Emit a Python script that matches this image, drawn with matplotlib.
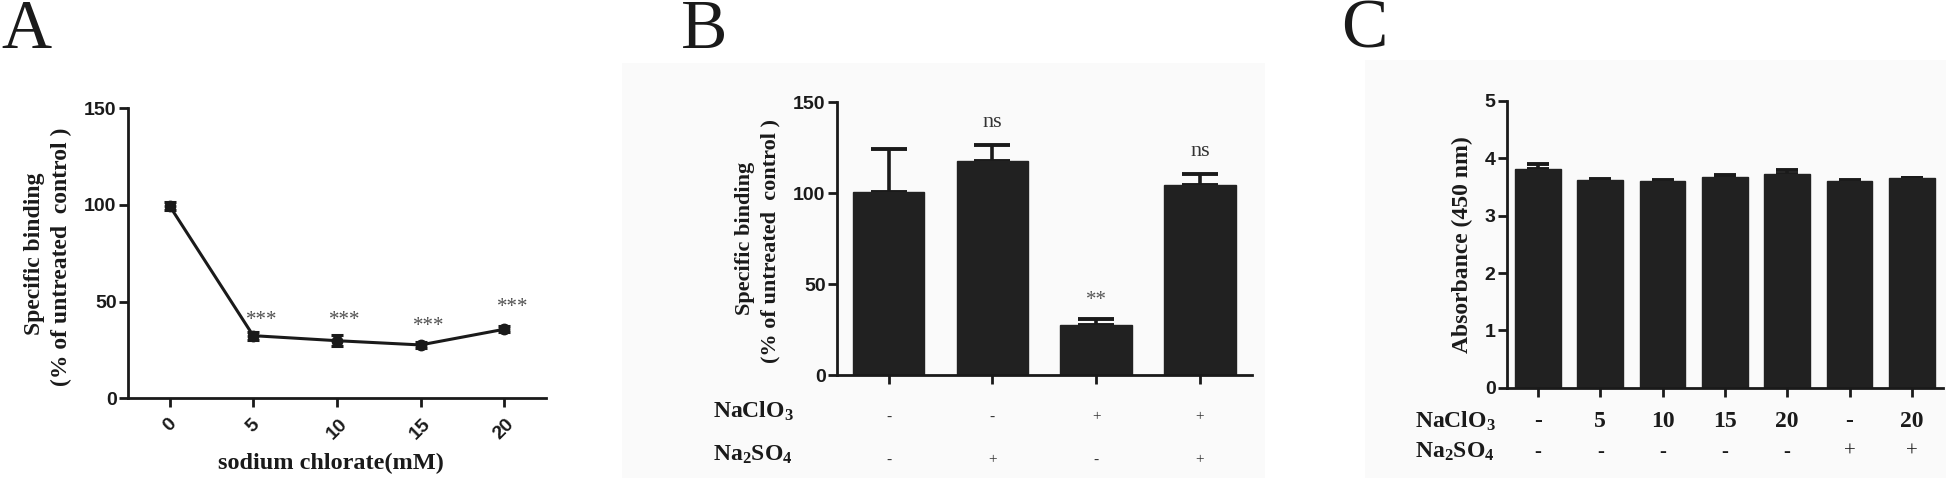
import matplotlib
matplotlib.use("Agg")
import matplotlib.pyplot as plt
from matplotlib.patches import Rectangle
from matplotlib.transforms import blended_transform_factory
import numpy as np

# ---------------- data ----------------
A_conc = [0, 5, 10, 15, 20]
A_binding = [99.6, 32.4, 29.8, 27.6, 35.7]
A_err = [2.0, 2.0, 3.0, 1.5, 1.5]
A_sig = ["", "***", "***", "***", "***"]
A_sig_y = [None, 40, 40, 37, 47]

B_binding = [100.5, 117.9, 27.5, 104.3]
B_err = [23.8, 8.6, 3.1, 6.3]
B_sig = ["", "ns", "**", "ns"]
B_naclo3 = ["-", "-", "+", "+"]
B_na2so4 = ["-", "+", "-", "+"]

C_absorb = [3.81, 3.62, 3.61, 3.68, 3.72, 3.61, 3.65]
C_err = [0.09, 0.015, 0.01, 0.03, 0.07, 0.015, 0.015]
C_naclo3 = ["-", "5", "10", "15", "20", "-", "20"]
C_na2so4 = ["-", "-", "-", "-", "-", "+", "+"]

# ---------------- style ----------------
SANS = "Liberation Sans"
SERIF = "Liberation Serif"
plt.rcParams["mathtext.fontset"] = "custom"
plt.rcParams["mathtext.rm"] = "Liberation Serif"
plt.rcParams["mathtext.bf"] = "Liberation Serif:bold"
plt.rcParams["mathtext.it"] = "Liberation Serif:italic"

W, H = 1946, 478
fig = plt.figure(figsize=(W / 100, H / 100), dpi=100)
fig.patch.set_facecolor("white")

BG = "#fafafa"
BAR = "#212121"
INK = "#1a1a1a"

def fx(px):
    return px / W

def fy(py):
    return 1 - py / H

# background panels for B and C
fig.patches.append(Rectangle((fx(622), 0), fx(1265) - fx(622), fy(63), transform=fig.transFigure,
                             facecolor=BG, edgecolor="none", zorder=-10))
fig.patches.append(Rectangle((fx(1365), 0), 1 - fx(1365), fy(60), transform=fig.transFigure,
                             facecolor=BG, edgecolor="none", zorder=-10))

def make_ax(left, right, top, bottom):
    ax = fig.add_axes([fx(left), fy(bottom), fx(right) - fx(left), (bottom - top) / H])
    ax.set_facecolor("none")
    ax.set_zorder(2)
    for s in ("top", "right"):
        ax.spines[s].set_visible(False)
    for s in ("left", "bottom"):
        ax.spines[s].set_linewidth(2.0)
        ax.spines[s].set_color(INK)
    ax.tick_params(axis="both", direction="out", width=2.0, length=6.5, color=INK)
    ax.tick_params(axis="y", pad=1.5)
    return ax

def style_yticks(ax):
    for lab in ax.get_yticklabels():
        lab.set_fontfamily(SANS)
        lab.set_fontweight("bold")
        lab.set_fontsize(14)
        lab.set_color(INK)

# ---------------- panel letters ----------------
for letter, x in (("A", 1), ("B", 681), ("C", 1341)):
    fig.text(fx(x), fy(48), letter, family=SERIF, fontsize=50, color=INK, ha="left", va="baseline")

# ---------------- Panel A ----------------
axA = make_ax(127.7, 546, 108.3, 398.3)
axA.errorbar(A_conc, A_binding, yerr=A_err, color=INK, lw=2.2, marker="o", ms=7.5,
             mfc=INK, mec=INK, capsize=4, capthick=2.2, elinewidth=2.2, zorder=3)
axA.set_xlim(-2.5, 22.5)
axA.set_ylim(0, 150)
axA.set_yticks([0, 50, 100, 150])
axA.set_xticks(A_conc)
axA.set_xticklabels([str(c) for c in A_conc], rotation=45, ha="center", va="top",
                    family=SANS, fontweight="bold", fontsize=14, color=INK)
axA.tick_params(axis="x", pad=6)
style_yticks(axA)
for x, s, yy in zip(A_conc, A_sig, A_sig_y):
    if s:
        axA.text(x + 0.5, yy, s, family=SERIF, fontsize=15, color="#505050", ha="center", va="center")
fig.text(fx(331), fy(463), "sodium chlorate(mM)", family=SERIF, fontweight="bold", fontsize=17.5,
         color=INK, ha="center", va="center")
fig.text(fx(35), fy(254), "Specific binding", rotation=90, family=SERIF, fontweight="bold",
         fontsize=17, color=INK, ha="center", va="center")
fig.text(fx(61.7), fy(257), "(% of untreated  control )", rotation=90, family=SERIF, fontweight="bold",
         fontsize=17, color=INK, ha="center", va="center")

# ---------------- Panel B ----------------
axB = make_ax(836.7, 1251.7, 102.3, 375)
xb = np.arange(len(B_binding))
axB.bar(xb, B_binding, width=0.69, color=BAR, edgecolor=BAR, zorder=2)
axB.errorbar(xb, B_binding, yerr=[np.zeros(len(B_err)), B_err], fmt="none", ecolor=INK,
             elinewidth=2.6, capsize=13, capthick=2.8, zorder=1)
axB.set_xlim(-0.5, 3.5)
axB.set_ylim(0, 150)
axB.set_yticks([0, 50, 100, 150])
axB.set_xticks(xb)
axB.set_xticklabels([])
style_yticks(axB)
for i, s in enumerate(B_sig):
    if not s:
        continue
    top = B_binding[i] + B_err[i]
    if s == "ns":
        axB.text(i, top + 7, s, family=SERIF, fontsize=16, color="#333333", ha="center", va="bottom")
    else:
        axB.text(i, top + 5, s, family=SERIF, fontsize=15, color="#555555", ha="center", va="bottom")
trB = blended_transform_factory(axB.transData, fig.transFigure)
for i in xb:
    axB.text(i, fy(417), B_naclo3[i], transform=trB, family=SERIF, fontsize=11, color="#333333",
             ha="center", va="center")
    axB.text(i, fy(460), B_na2so4[i], transform=trB, family=SERIF, fontsize=11, color="#333333",
             ha="center", va="center")
fig.text(fx(713), fy(418), r"$\mathbf{NaClO_3}$", fontsize=17, color=INK, ha="left", va="baseline")
fig.text(fx(713), fy(461), r"$\mathbf{Na_2SO_4}$", fontsize=17, color=INK, ha="left", va="baseline")
fig.text(fx(745), fy(238), "Specific binding", rotation=90, family=SERIF, fontweight="bold",
         fontsize=16, color=INK, ha="center", va="center")
fig.text(fx(770), fy(241), "(% of untreated  control )", rotation=90, family=SERIF, fontweight="bold",
         fontsize=16, color=INK, ha="center", va="center")

# ---------------- Panel C ----------------
axC = make_ax(1506.7, 1943, 101, 387.7)
xc = np.arange(len(C_absorb))
axC.bar(xc, C_absorb, width=0.73, color=BAR, edgecolor=BAR, zorder=2)
axC.errorbar(xc, C_absorb, yerr=[np.zeros(len(C_err)), C_err], fmt="none", ecolor=INK,
             elinewidth=2.6, capsize=8, capthick=2.8, zorder=1)
axC.set_xlim(-0.5, 6.5)
axC.set_ylim(0, 5)
axC.set_yticks([0, 1, 2, 3, 4, 5])
axC.set_xticks(xc)
axC.set_xticklabels([])
style_yticks(axC)
trC = blended_transform_factory(axC.transData, fig.transFigure)
for i in xc:
    axC.text(i, fy(427), C_naclo3[i], transform=trC, family=SERIF, fontweight="bold", fontsize=17,
             color=INK, ha="center", va="baseline")
    w = "bold" if C_na2so4[i] == "-" else "normal"
    axC.text(i, fy(452), C_na2so4[i], transform=trC, family=SERIF, fontweight=w, fontsize=15,
             color=INK, ha="center", va="center")
fig.text(fx(1415), fy(428), r"$\mathbf{NaClO_3}$", fontsize=17, color=INK, ha="left", va="baseline")
fig.text(fx(1415), fy(458), r"$\mathbf{Na_2SO_4}$", fontsize=17, color=INK, ha="left", va="baseline")
fig.text(fx(1462), fy(245), "Absorbance (450 nm)", rotation=90, family=SERIF, fontweight="bold",
         fontsize=17, color=INK, ha="center", va="center")

fig.savefig("out.png", dpi=100, facecolor="white")
